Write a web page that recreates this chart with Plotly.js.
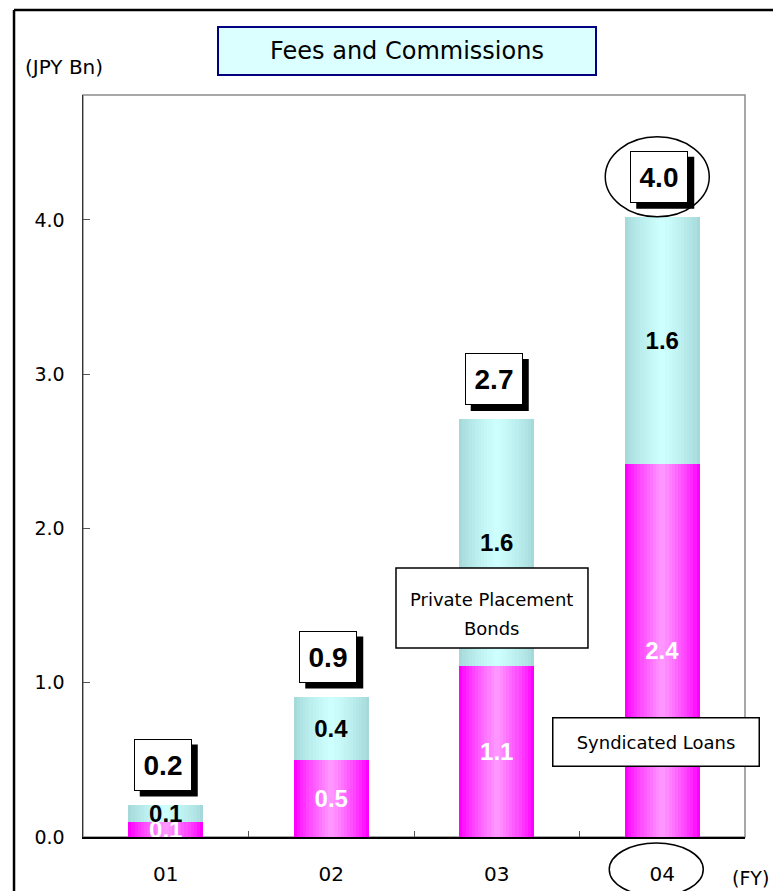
<!DOCTYPE html>
<html>
<head>
<meta charset="utf-8">
<script src="https://cdn.plot.ly/plotly-3.0.1.min.js"></script>
<style>
  html, body { margin: 0; padding: 0; background: #ffffff; }
  #chart { width: 773px; height: 891px; }
</style>
</head>
<body>
<div id="chart"></div>
<script>
// ---- data ----
const categories = ['01', '02', '03', '04'];
const syndicatedLoans = [0.10, 0.50, 1.11, 2.42];
const privatePlacementBonds = [0.11, 0.41, 1.60, 1.60];
const yTickValues = [0, 1, 2, 3, 4];
const yTickLabels = ['0.0', '1.0', '2.0', '3.0', '4.0'];

// ---- derived ----
const totals = categories.map((c, i) => syndicatedLoans[i] + privatePlacementBonds[i]);
const lastIdx = categories.length - 1;   // category position of the latest year

// ---- styling ----
const BAR_W = 0.453;
const LAYERS = 12;
const loansEdge = [255, 0, 255], loansCenter = [255, 150, 255];
const bondsEdge = [166, 218, 218], bondsCenter = [206, 255, 255];
function mix(a, b, t) {
  return 'rgb(' + a.map((v, k) => Math.round(v + (b[k] - v) * t)).join(',') + ')';
}

const traces = [];
function gradientBars(values, bases, edge, center, name) {
  for (let i = 0; i < LAYERS; i++) {
    const t = i / (LAYERS - 1);
    traces.push({
      type: 'bar', name: name, x: categories, y: values, base: bases,
      width: categories.map(() => BAR_W * (1 - i / LAYERS)),
      marker: { color: mix(edge, center, Math.pow(t, 0.8)), line: { width: 0 } },
      hoverinfo: 'skip', showlegend: false
    });
  }
}
const zeros = categories.map(() => 0);
gradientBars(syndicatedLoans, zeros, loansEdge, loansCenter, 'Syndicated Loans');
gradientBars(privatePlacementBonds, syndicatedLoans, bondsEdge, bondsCenter, 'Private Placement Bonds');

// value labels
function labelTrace(values, bases, color) {
  const f = { family: 'Liberation Sans, Arial, sans-serif', size: 24, color: color, weight: 'bold' };
  return {
    type: 'bar', x: categories, y: values, base: bases,
    width: categories.map(() => BAR_W),
    marker: { color: 'rgba(0,0,0,0)', line: { width: 0 } },
    text: values.map(v => v.toFixed(1)),
    textposition: 'inside', insidetextanchor: 'middle', textangle: 0,
    constraintext: 'none',
    textfont: f, insidetextfont: f,
    hoverinfo: 'skip', showlegend: false
  };
}
traces.push(labelTrace(syndicatedLoans, zeros, '#ffffff'));
traces.push(labelTrace(privatePlacementBonds, syndicatedLoans, '#000000'));

// ---- shapes ----
const shapes = [
  // plot frame (gray top/right)
  { type: 'rect', xref: 'paper', yref: 'paper', x0: 0, x1: 1, y0: 0, y1: 1,
    line: { color: '#8c8c8c', width: 1.5 }, layer: 'below' },
  // outer frame lines
  { type: 'line', xref: 'paper', yref: 'paper', x0: -0.1042, x1: -0.1042, y0: 1.1146, y1: -0.09,
    line: { color: '#000000', width: 2.5 } },
  { type: 'line', xref: 'paper', yref: 'paper', x0: -0.1042, x1: 1.06, y0: 1.1146, y1: 1.1146,
    line: { color: '#000000', width: 2.5 } },
  // oval around latest total
  { type: 'circle', xref: 'x', yref: 'y', xsizemode: 'pixel', ysizemode: 'pixel',
    xanchor: lastIdx, yanchor: totals[lastIdx], x0: -57, x1: 47, y0: 0, y1: 80,
    line: { color: '#000000', width: 1.5 }, layer: 'above' },
  // oval around latest year tick label
  { type: 'circle', xref: 'x', yref: 'paper', xsizemode: 'pixel', ysizemode: 'pixel',
    xanchor: lastIdx, yanchor: 0, x0: -53, x1: 41, y0: -59, y1: -6,
    line: { color: '#000000', width: 1.5 }, layer: 'above' },
  // callout box for the bonds series
  { type: 'rect', xref: 'paper', yref: 'paper', x0: 0.4728, x1: 0.7628, y0: 0.2547, y1: 0.3625,
    fillcolor: '#ffffff', line: { color: '#000000', width: 1.5 }, layer: 'above' }
];

// ---- annotations ----
const annotations = [];
categories.forEach((c, i) => {
  // drop shadow behind the total box
  shapes.push({
    type: 'rect', xref: 'x', yref: 'y', xsizemode: 'pixel', ysizemode: 'pixel',
    xanchor: i, yanchor: totals[i], x0: -26, x1: 32, y0: 8, y1: 60,
    fillcolor: '#000000', line: { width: 0 }, layer: 'above'
  });
  annotations.push({
    x: i, y: totals[i], xref: 'x', yref: 'y', showarrow: false,
    yanchor: 'bottom', xanchor: 'center', width: 52, height: 46,
    borderpad: 2, borderwidth: 1, bordercolor: '#000000', bgcolor: '#ffffff',
    text: totals[i].toFixed(1), xshift: -3, yshift: 14,
    font: { family: 'Liberation Sans, Arial, sans-serif', size: 28, color: '#000000', weight: 'bold' }
  });
});

// chart title box
annotations.push({
  text: 'Fees and Commissions', xref: 'paper', yref: 'paper', x: 0.4894, y: 1.0593,
  xanchor: 'center', yanchor: 'middle', showarrow: false, width: 376, height: 46,
  borderpad: 0, borderwidth: 2, bordercolor: '#000080', bgcolor: '#DBFFFF',
  font: { family: 'DejaVu Sans, sans-serif', size: 24, color: '#000000' }
});
// unit label
annotations.push({
  text: '(JPY Bn)', xref: 'paper', yref: 'paper', x: -0.0287, y: 1.0377,
  xanchor: 'center', yanchor: 'middle', showarrow: false,
  font: { family: 'DejaVu Sans, sans-serif', size: 20, color: '#000000' }
});
// FY label
annotations.push({
  text: '(FY)', xref: 'paper', yref: 'paper', x: 1.0076, y: -0.055,
  xanchor: 'center', yanchor: 'middle', showarrow: false,
  font: { family: 'DejaVu Sans, sans-serif', size: 19, color: '#000000' }
});
// series callouts
annotations.push({
  text: '<span style="font-size:18px">Private Placement</span><br><span style="font-size:18px">Bonds</span>',
  xref: 'paper', yref: 'paper', x: 0.6178, y: 0.2999,
  xanchor: 'center', yanchor: 'middle', showarrow: false,
  font: { family: 'DejaVu Sans, sans-serif', size: 22, color: '#000000' }
});
annotations.push({
  text: 'Syndicated Loans', xref: 'paper', yref: 'paper', x: 0.8656, y: 0.128,
  xanchor: 'center', yanchor: 'middle', showarrow: false, width: 205, height: 47,
  borderpad: 0, borderwidth: 1.5, bordercolor: '#000000', bgcolor: '#ffffff',
  font: { family: 'DejaVu Sans, sans-serif', size: 18, color: '#000000' }
});

const layout = {
  width: 773, height: 891,
  margin: { l: 83, r: 28, t: 95, b: 54, pad: 0 },
  paper_bgcolor: '#ffffff', plot_bgcolor: '#ffffff',
  barmode: 'overlay', bargap: 0,
  showlegend: false,
  xaxis: {
    type: 'category', categoryorder: 'array', categoryarray: categories,
    range: [-0.5, 3.5], tickson: 'boundaries', ticks: 'inside', ticklen: 6,
    tickcolor: '#555555', tickwidth: 1,
    showline: true, linecolor: '#000000', linewidth: 2,
    showgrid: false, zeroline: false, fixedrange: true,
    ticklabelstandoff: 18,
    tickfont: { family: 'DejaVu Sans, sans-serif', size: 20, color: '#000000' }
  },
  yaxis: {
    range: [0, 4.81], tickmode: 'array', tickvals: yTickValues, ticktext: yTickLabels,
    ticks: 'inside', ticklen: 7, tickcolor: '#555555', tickwidth: 1,
    showline: true, linecolor: '#333333', linewidth: 1.5,
    showgrid: false, zeroline: false, fixedrange: true,
    ticklabelstandoff: 13,
    tickfont: { family: 'DejaVu Sans, sans-serif', size: 19, color: '#000000' }
  },
  annotations: annotations,
  shapes: shapes
};

Plotly.newPlot('chart', traces, layout, { displayModeBar: false, staticPlot: true });
</script>
</body>
</html>
